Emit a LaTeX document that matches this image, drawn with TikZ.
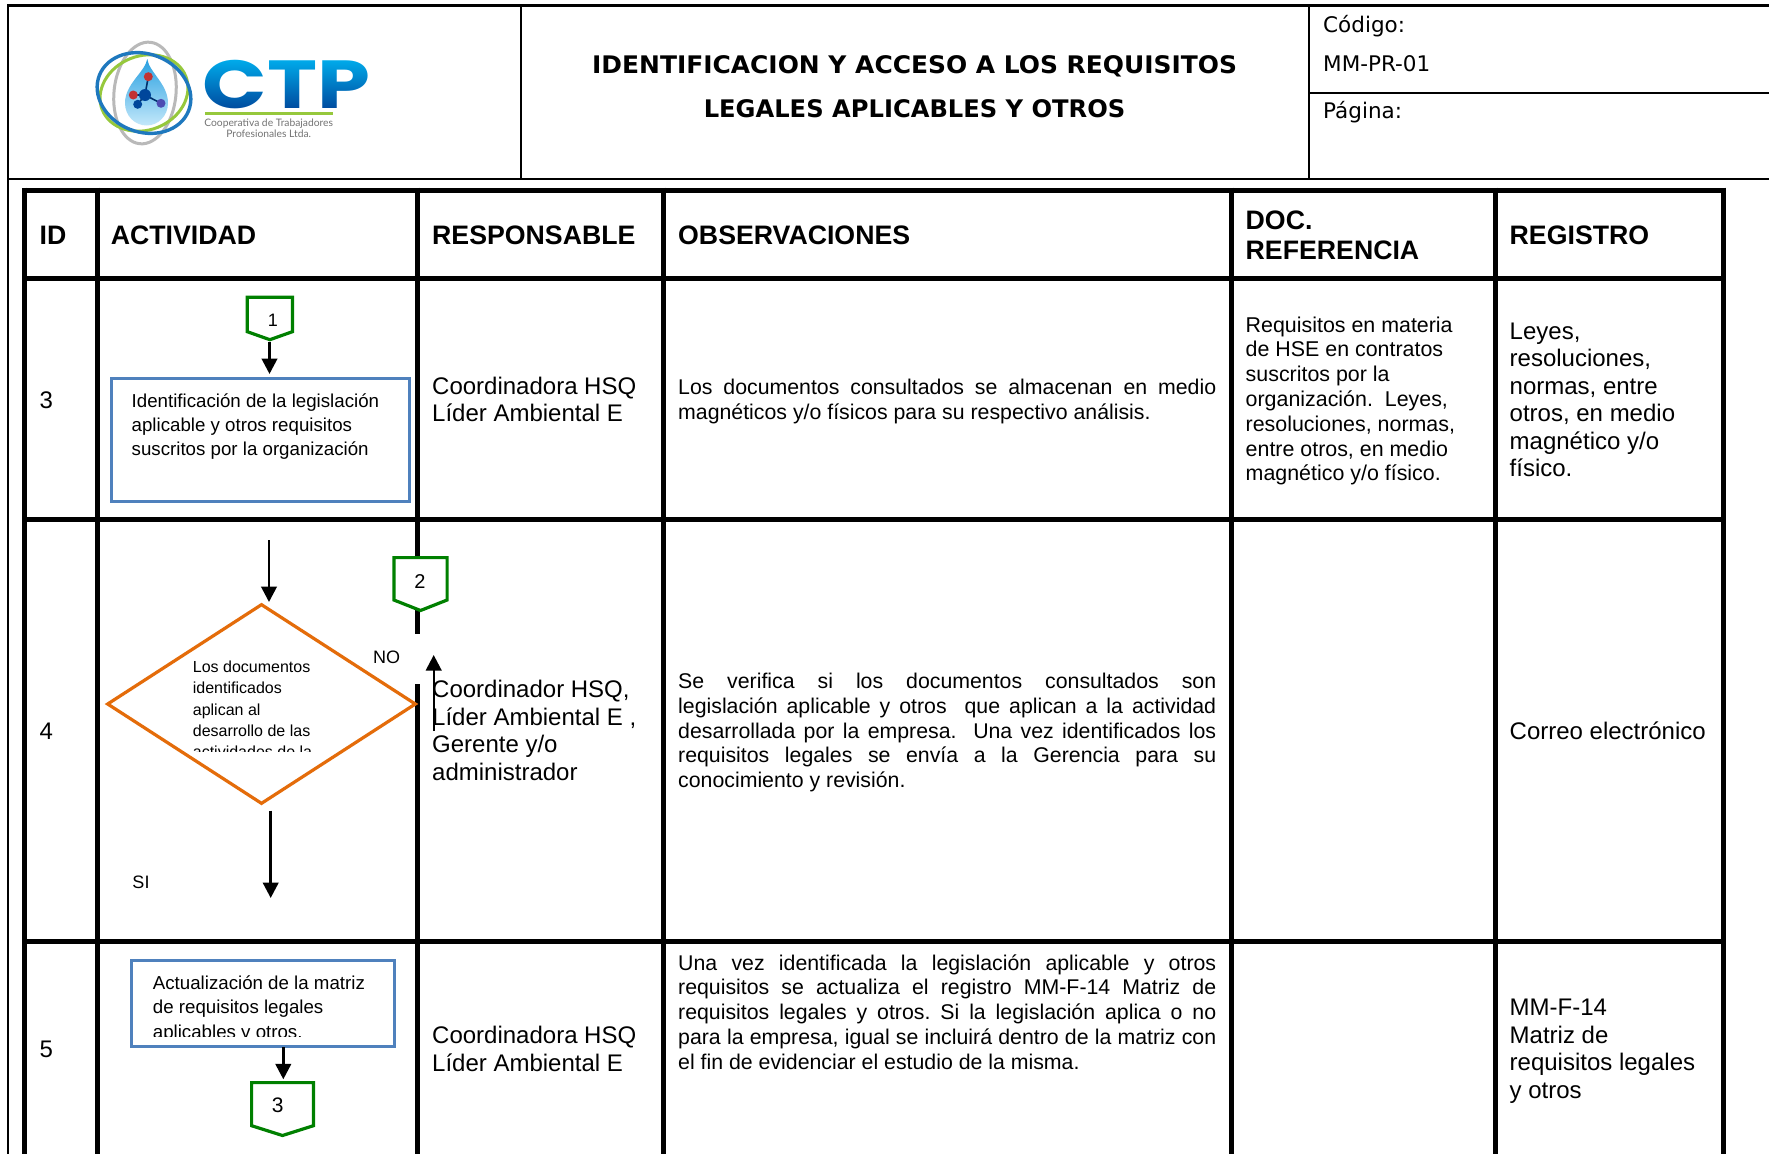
\documentclass[tikz,border=0pt]{standalone}
\usepackage{fontspec}
\setmainfont{Liberation Sans}
\newfontfamily\verd{DejaVu Sans}
\newfontfamily\logofont{Poppins}
\newfontfamily\logosmall{Lato}
\usetikzlibrary{arrows.meta,shapes.geometric}
\definecolor{flowgreen}{RGB}{0,128,0}
\definecolor{flowblue}{RGB}{79,129,189}
\definecolor{floworange}{RGB}{228,108,10}
\definecolor{logotop}{RGB}{0,178,240}
\definecolor{logobot}{RGB}{0,70,155}
\definecolor{logogreen}{RGB}{150,200,60}
\definecolor{logoblue}{RGB}{30,120,190}
\definecolor{logogrey}{RGB}{185,185,185}
\definecolor{droptop}{RGB}{40,160,225}
\definecolor{dropbot}{RGB}{195,232,250}
\newcommand\fs[2]{\fontsize{#1}{#2}\selectfont}
\newcommand\jl[1]{\leavevmode\hbox to 538pt{#1}\par}
\newcommand\pent[5]{% x1 x2 top side tip
  \draw[pentline] (#1,#3) -- (#2,#3) -- (#2,#4) -- ({(#1+#2)/2},#5) -- (#1,#4) -- cycle;}
\tikzset{
  grid/.style={line width=5pt,line cap=butt},
  frame/.style={line width=2.4pt},
  pentline/.style={draw=flowgreen,fill=white,line width=3.2pt,line join=miter},
  flow/.style={line width=2.8pt,-{Triangle[length=15.5pt,width=15.5pt]}},
  head/.style={anchor=west,font=\bfseries\fs{26.7}{30.5},align=left,inner sep=0},
  body/.style={anchor=west,font=\fs{24}{27.5},align=left,inner sep=0},
  small/.style={anchor=west,font=\fs{21.4}{24.8},align=left,inner sep=0},
  just/.style={anchor=west,font=\fs{21.3}{24.8}\frenchspacing,text width=538pt,inner sep=0,align=none},
  meta/.style={anchor=west,font=\verd\fs{21.5}{25},inner sep=0},
  titl/.style={font=\verd\bfseries\fs{24.2}{28},inner sep=0},
  actbox/.style={draw=flowblue,line width=3.2pt,inner sep=0},
  acttext/.style={anchor=west,align=left,inner sep=0},
  digit/.style={inner sep=0},
}
\begin{document}
\begin{tikzpicture}[x=1pt,y=-1pt]
\useasboundingbox (0,0) rectangle (1769,1154);
\fill[white] (0,0) rectangle (1769,1154);

% logo word: black text turned into a gradient by a screen-blended shade
\node[inner sep=0,xscale=1.246,text=black,text height=48pt,text depth=0pt,font=\logofont\bfseries\fs{68}{68}] (ctp) at (286.5,84.3) {CTP};
\begin{scope}[blend mode=screen]
  \shade[top color=logotop,bottom color=logobot] (196,56) rectangle (378,111);
\end{scope}

% header frame
\draw[frame] (1769,5.5) -- (8,5.5) -- (8,1154);
\draw[line width=2pt] (8,179) -- (1769,179);
\draw[line width=2pt] (521,5.5) -- (521,179);
\draw[line width=2pt] (1309,5.5) -- (1309,179);
\draw[line width=2pt] (1309,92.7) -- (1769,92.7);

% logo
\begin{scope}
  \draw[logogrey,line width=3pt] (145,93) ellipse [x radius=31,y radius=51,rotate=-6];
  \draw[logogreen,line width=3pt] (144,93) ellipse [x radius=45,y radius=37,rotate=22];
  \draw[logoblue,line width=3.4pt] (144,93) ellipse [x radius=48,y radius=39,rotate=-22];
  \shade[top color=droptop,bottom color=dropbot]
    (147.3,59) .. controls (149,72) and (168,84) .. (168,103)
    .. controls (168,116) and (158,125.5) .. (146.7,125.5)
    .. controls (135,125.5) and (125,116) .. (125,103)
    .. controls (125,84) and (145,72) .. (147.3,59) -- cycle;
  \draw[logobot!70!black,line width=1.6pt] (148.3,76.7) -- (145,95) -- (133.3,95);
  \draw[logobot!70!black,line width=1.6pt] (137.7,104.3) -- (145,95) -- (161,103.3);
  \fill[red!70!black!80] (148.3,76.7) circle (4.5);
  \fill[red!70!black!80] (133.3,95) circle (4.5);
  \fill[logobot] (137.7,104.3) circle (4.5);
  \fill[blue!40!gray] (161,103.3) circle (4.5);
  \fill[logobot] (145,95) circle (6);
\end{scope}
\fill[logogreen] (205,111.8) rectangle (333,114.6);
\node[inner sep=0,text=black!55,font=\logosmall\fs{10.3}{10.6},align=center] (logotxt) at (268.7,128) {Cooperativa de Trabajadores\\Profesionales Ltda.};

% title block
\node[titl,xscale=1.03] (t1) at (914.6,66) {IDENTIFICACION Y ACCESO A LOS REQUISITOS};
\node[titl] (t2) at (914.6,109) {LEGALES APLICABLES Y OTROS};
\node[meta] (m1) at (1323,26) {Código:};
\node[meta] (m2) at (1323,63.5) {MM-PR-01};
\node[meta] (m3) at (1323,112) {Página:};

% table grid
\draw[grid] (24.8,190) -- (1725.5,190);
\draw[grid] (24.8,278) -- (1725.5,278);
\draw[grid] (24.8,519) -- (1725.5,519);
\draw[grid] (24.8,941) -- (1725.5,941);
\draw[grid] (24.8,187.5) -- (24.8,1154);
\draw[grid] (97,187.5) -- (97,1154);
\draw[grid] (417.4,187.5) -- (417.4,1154);
\draw[grid] (663.5,187.5) -- (663.5,1154);
\draw[grid] (1231,187.5) -- (1231,1154);
\draw[grid] (1495.5,187.5) -- (1495.5,1154);
\draw[grid] (1723,187.5) -- (1723,1154);
\fill[white] (410,634) rectangle (426,684);

% column heads
\node[head] (h1) at (39.5,235) {ID};
\node[head] (h2) at (110.6,235) {ACTIVIDAD};
\node[head] (h3) at (432,235) {RESPONSABLE};
\node[head] (h4) at (678,235) {OBSERVACIONES};
\node[head] (h5) at (1245.5,235.5) {DOC.\\REFERENCIA};
\node[head] (h6) at (1509.5,235) {REGISTRO};

% ID
\node[body] (id3) at (39.5,400.5) {3};
\node[body] (id4) at (39.5,731) {4};
\node[body] (id5) at (39.5,1049) {5};

% responsable
\node[body] (r3) at (432,399.4) {Coordinadora HSQ\\Líder Ambiental E};
\node[body] (r4) at (432,730.6) {Coordinador HSQ,\\Líder Ambiental E ,\\Gerente y/o\\administrador};
\node[body] (r5) at (432,1049) {Coordinadora HSQ\\Líder Ambiental E};

% observaciones
\node[just] (o3) at (678,401.6) {\jl{Los documentos consultados se almacenan en medio}\leavevmode\hbox{magnéticos y/o físicos para su respectivo análisis.}};
\node[just] (o4) at (678,732.5) {\jl{Se verifica si los documentos consultados son}\jl{legislación aplicable y otros\ \ que aplican a la actividad}\jl{desarrollada por la empresa.\ \ Una vez identificados los}\jl{requisitos legales se envía a la Gerencia para su}\leavevmode\hbox{conocimiento y revisión.}};
\node[just] (o5) at (678,1012) {\jl{Una vez identificada la legislación aplicable y otros}\jl{requisitos se actualiza el registro MM-F-14 Matriz de}\jl{requisitos legales y otros. Si la legislación aplica o no}\jl{para la empresa, igual se incluirá dentro de la matriz con}\leavevmode\hbox{el fin de evidenciar el estudio de la misma.}};

% doc referencia
\node[small] (d3) at (1245.5,401) {Requisitos en materia\\de HSE en contratos\\suscritos por la\\organización.\ \ Leyes,\\resoluciones, normas,\\entre otros, en medio\\magnético y/o físico.};

% registro
\node[body] (g3) at (1509.5,400) {Leyes,\\resoluciones,\\normas, entre\\otros, en medio\\magnético y/o\\físico.};
\node[body] (g4) at (1509.5,731) {Correo electrónico};
\node[body] (g5) at (1509.5,1051) {MM-F-14\\Matriz de\\requisitos legales\\y otros};

% activity 1
\pent{247.3}{292.4}{297.3}{331.7}{339.7}
\node[digit,font=\fs{18}{20}] (n1) at (273,320) {1};
\node[actbox,minimum width=297.7pt,minimum height=123pt] (box1) at (260.35,439.7) {};
\node[acttext,font=\fs{18.7}{24.2}] (b1t) at (131.5,426.5) {Identificación de la legislación\\aplicable y otros requisitos\\suscritos por la organización};
\coordinate (tip1) at (269.5,342);
\coordinate (in1) at (269.5,374);
\draw[flow] (tip1) -- (in1);

% activity 2
\coordinate (a2s) at (269,540);
\coordinate (a2e) at (269,602);
\draw[flow] (a2s) -- (a2e);
\node[diamond,draw=floworange,line width=3.2pt,inner sep=0,minimum width=309pt,minimum height=200pt,shape aspect=1.545] (dec) at (261.5,704) {};
\begin{scope}
  \clip (185,650) rectangle (315,751);
  \node[acttext,anchor=north west,font=\fs{16}{21.4}] (dect) at (192.7,660.5) {Los documentos\\identificados\\aplican al\\desarrollo de las\\actividades de la};
\end{scope}
\coordinate (a3s) at (270.7,810.7);
\coordinate (a3e) at (270.7,898);
\draw[flow] (a3s) -- (a3e);
\node[digit,font=\fs{18}{20}] (si) at (141,882.7) {SI};
\node[digit,font=\fs{18}{20}] (no) at (386.7,657.7) {NO};
\coordinate (a4s) at (433.7,731);
\coordinate (a4e) at (433.7,655);
\draw[flow,line width=2.4pt] (a4s) -- (a4e);
\pent{393.9}{447.1}{557.6}{600}{610.5}
\node[digit,font=\fs{20}{22}] (n2) at (420,582) {2};

% activity 3
\node[actbox,minimum width=263pt,minimum height=86pt] (box3) at (263,1003.8) {};
\begin{scope}
  \clip (140,965) rectangle (390,1036.7);
  \node[acttext,anchor=north west,font=\fs{18.7}{24.4}] (b3t) at (152.7,975.5) {Actualización de la matriz\\de requisitos legales\\aplicables y otros.};
\end{scope}
\coordinate (a5s) at (283.3,1047);
\coordinate (a5e) at (283.3,1079.3);
\draw[flow] (a5s) -- (a5e);
\pent{251.6}{313.4}{1082.6}{1125.7}{1135.5}
\node[digit,font=\fs{21}{23}] (n3) at (277.7,1105.7) {3};
\end{tikzpicture}
\end{document}
